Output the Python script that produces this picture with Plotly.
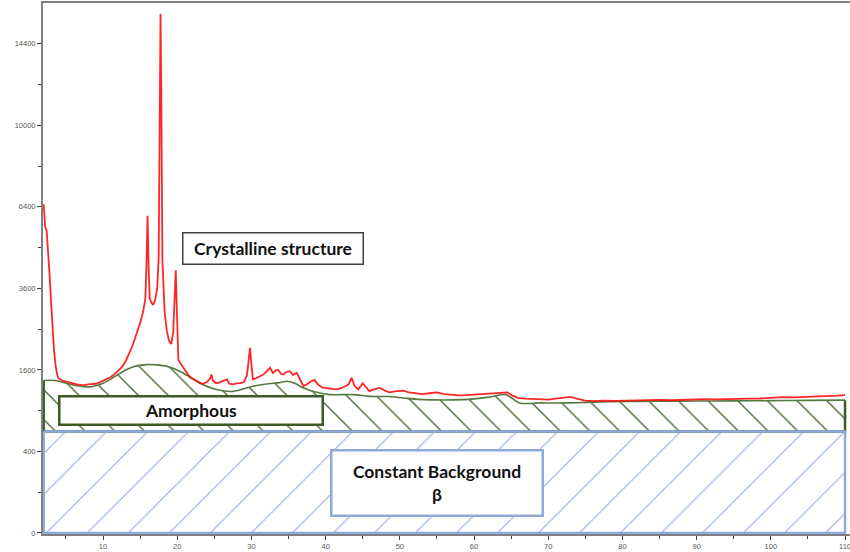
import numpy as np
import plotly.graph_objects as go

# Diffraction pattern: 2-theta (deg) and intensity (counts)
two_theta = [
    2.0, 2.1, 2.2, 2.4, 2.6, 2.8, 3.0, 3.2, 3.4, 3.6, 3.8, 4.0, 4.3, 4.6, 5.0, 5.5,
    6.0, 6.5, 7.0, 7.5, 8.0, 8.5, 9.0, 9.5, 10.0, 10.5, 11.0, 11.5, 12.0, 12.5, 13.0,
    13.5, 14.0, 14.5, 15.0, 15.4, 15.7, 15.85, 16.0, 16.15, 16.3, 16.5, 16.75, 17.0,
    17.3, 17.5, 17.65, 17.75, 17.85, 18.0, 18.3, 18.6, 18.9, 19.2, 19.45, 19.65, 19.8,
    19.95, 20.15, 20.5, 21.0, 21.5, 22.0, 22.5, 23.0, 23.5, 24.0, 24.4, 24.6, 24.8,
    25.2, 25.6, 26.0, 26.4, 26.7, 27.0, 27.5, 28.0, 28.5, 29.0, 29.4, 29.6, 29.8, 30.0,
    30.2, 30.6, 31.0, 31.5, 32.0, 32.5, 32.9, 33.3, 33.6, 34.0, 34.3, 34.7, 35.2, 35.6,
    36.1, 36.5, 37.0, 37.5, 38.0, 38.5, 39.0, 39.6, 40.2, 40.8, 41.4, 42.0, 42.6, 43.1,
    43.5, 43.9, 44.4, 45.0, 45.5, 45.9, 46.5, 47.3, 48.0, 48.6, 49.3, 50.0, 50.5, 51.2,
    52.0, 53.0, 54.0, 55.0, 56.0, 57.0, 58.0, 59.0, 60.0, 61.0, 62.0, 63.0, 64.0, 64.5,
    65.2, 66.0, 67.0, 68.0, 69.0, 70.0, 71.0, 72.0, 73.0, 74.0, 75.0, 76.0, 77.5, 79.0,
    80.5, 82.0, 83.5, 85.0, 86.5, 88.0, 89.5, 91.0, 92.5, 94.0, 95.5, 97.0, 98.5, 100.0,
    101.5, 103.0, 104.5, 106.0, 107.5, 109.0, 110.0,
]
intensity = [
    6500, 5900, 5650, 5500, 4800, 4000, 3200, 2500, 2000, 1700, 1520, 1440, 1420, 1390,
    1380, 1360, 1340, 1330, 1320, 1315, 1330, 1335, 1340, 1360, 1390, 1420, 1460, 1510,
    1570, 1650, 1760, 1920, 2120, 2380, 2650, 2950, 3300, 4300, 6050, 4200, 3300, 3200,
    3130, 3250, 3600, 4600, 11000, 16200, 12000, 4500, 2950, 2450, 2220, 2150, 2400,
    3300, 4150, 3000, 1800, 1720, 1620, 1500, 1440, 1400, 1360, 1340, 1370, 1430, 1510,
    1400, 1350, 1360, 1380, 1400, 1420, 1340, 1330, 1345, 1350, 1370, 1500, 1750, 2060,
    1700, 1420, 1440, 1470, 1500, 1560, 1640, 1540, 1590, 1600, 1520, 1510, 1560, 1575,
    1500, 1545, 1420, 1300, 1330, 1380, 1410, 1320, 1270, 1260, 1250, 1240, 1260, 1290,
    1330, 1450, 1300, 1240, 1350, 1260, 1210, 1240, 1265, 1220, 1190, 1205, 1215, 1220,
    1190, 1180, 1160, 1175, 1190, 1160, 1150, 1140, 1145, 1155, 1165, 1165, 1175, 1190,
    1190, 1135, 1095, 1085, 1080, 1070, 1070, 1085, 1100, 1115, 1080, 1055, 1045, 1055,
    1050, 1055, 1062, 1055, 1065, 1060, 1070, 1072, 1078, 1075, 1082, 1080, 1085, 1088,
    1098, 1110, 1105, 1110, 1115, 1125, 1135, 1145,
]

# Amorphous halo (upper edge of the amorphous contribution)
amorphous_theta = [
    2.0, 3.5, 5.0, 6.5, 8.3, 9.6, 11.0, 12.0, 13.2, 14.5, 15.9, 17.2, 18.6, 20.35, 21.7,
    23.0, 25.3, 27.5, 30.2, 32.0, 33.8, 34.8, 36.0, 36.9, 38.5, 40.5, 43.7, 45.9, 48.6,
    51.0, 53.1, 58.5, 62.0, 64.3, 66.1, 69.0, 72.4, 76.0, 80.0, 85.0, 90.0, 95.0, 100.0,
    105.0, 110.0,
]
amorphous_level = [
    1400, 1400, 1350, 1305, 1285, 1325, 1420, 1510, 1608, 1680, 1706, 1700, 1671, 1573,
    1460, 1355, 1238, 1207, 1295, 1335, 1360, 1384, 1340, 1272, 1200, 1152, 1152, 1123,
    1120, 1090, 1070, 1070, 1110, 1152, 1018, 1018, 1018, 1030, 1040, 1044, 1048, 1050,
    1054, 1058, 1062,
]

# Constant background level beta
beta = 620

# Square-root intensity axis
y_tick_values = [0, 400, 1600, 3600, 6400, 10000, 14400]
y_minor_values = [100, 900, 2500, 4900, 8100, 12100]
x_tick_values = [10, 20, 30, 40, 50, 60, 70, 80, 90, 100, 110]
x_minor_values = [5, 15, 25, 35, 45, 55, 65, 75, 85, 95, 105]

x_lo, x_hi = two_theta[0], two_theta[-1]
sq = np.sqrt

BLUE = "#8faadc"
GREEN_DARK = "#3b5b27"
GREEN_LINE = "#557a40"
GRAY = "#808080"

fig = go.Figure()

# Constant background band (hatched /)
fig.add_trace(go.Scatter(
    x=[x_lo, x_hi], y=[sq(beta)] * 2, mode="lines",
    line=dict(width=0, color=BLUE), fill="tozeroy",
    fillcolor="rgba(0,0,0,0)",
    fillpattern=dict(shape="/", size=29, solidity=0.035, fgcolor="#8aa7dc",
                     fgopacity=1, bgcolor="white"),
    hoverinfo="skip", showlegend=False,
))

# Amorphous contribution above the background (hatched \)
fig.add_trace(go.Scatter(
    x=amorphous_theta, y=sq(np.array(amorphous_level)), mode="lines",
    line=dict(width=1.6, color=GREEN_LINE, shape="spline", smoothing=0.8),
    fill="tonexty", fillcolor="rgba(0,0,0,0)",
    fillpattern=dict(shape="\\", size=21, solidity=0.065, fgcolor="#44662f",
                     fgopacity=1, bgcolor="white"),
    hoverinfo="skip", showlegend=False,
))

# Outline of the amorphous band: sides and bottom
fig.add_trace(go.Scatter(
    x=[x_lo, x_lo, x_hi, x_hi],
    y=[sq(amorphous_level[0]), sq(beta), sq(beta), sq(amorphous_level[-1])],
    mode="lines", line=dict(width=2.5, color=GREEN_DARK),
    hoverinfo="skip", showlegend=False,
))

# Outline of the background band
fig.add_trace(go.Scatter(
    x=[x_lo, x_lo, x_hi, x_hi, x_lo],
    y=[sq(beta), 0, 0, sq(beta), sq(beta)],
    mode="lines", line=dict(width=2.5, color=BLUE),
    hoverinfo="skip", showlegend=False,
))

# Measured pattern
fig.add_trace(go.Scatter(
    x=two_theta, y=sq(np.array(intensity)), mode="lines",
    line=dict(width=1.8, color="rgba(255,0,0,0.85)"),
    hoverinfo="skip", showlegend=False,
))

label_font = dict(family="Lato, Open Sans, sans-serif", size=17.5, color="#111111")

fig.add_annotation(
    x=32.9, y=69.9, xref="x", yref="y", showarrow=False,
    text="<b>Crystalline structure</b>", font=label_font,
    width=179, height=30, borderpad=0, borderwidth=1.5, bordercolor="#404040",
    bgcolor="white", align="center",
)
fig.add_annotation(
    x=21.86, y=30.13, xref="x", yref="y", showarrow=False,
    text="<b>Amorphous</b>", font=label_font,
    width=261, height=26, borderpad=0, borderwidth=2.5, bordercolor=GREEN_DARK,
    bgcolor="white", align="center",
)
fig.add_annotation(
    x=55.0, y=12.34, xref="x", yref="y", showarrow=False,
    text="<b>Constant Background</b><br><b>β</b>", font=label_font,
    width=209, height=63, borderpad=0, borderwidth=2.5, bordercolor=BLUE,
    bgcolor="white", align="center",
)

tick_font = dict(family="Liberation Sans, Arial, sans-serif", size=7.5, color="#595959")

fig.update_xaxes(
    range=[1.91, 110.67], showgrid=False, zeroline=False,
    showline=True, mirror=True, linecolor=GRAY, linewidth=2,
    tickmode="array", tickvals=x_tick_values,
    ticktext=[str(v) for v in x_tick_values],
    ticks="outside", ticklen=4, tickwidth=1, tickcolor="#404040",
    tickfont=tick_font, layer="below traces", ticklabeloverflow="allow",
    minor=dict(tickvals=x_minor_values, ticks="outside", ticklen=3,
               tickwidth=1, tickcolor="#404040"),
)
fig.update_yaxes(
    range=[-0.25, 130], showgrid=False, zeroline=False,
    showline=True, linecolor=GRAY, linewidth=2,
    tickmode="array", tickvals=[sq(v) for v in y_tick_values],
    ticktext=[str(v) for v in y_tick_values],
    ticks="outside", ticklen=4, tickwidth=1, tickcolor="#404040",
    tickfont=tick_font, layer="below traces",
    minor=dict(tickvals=[sq(v) for v in y_minor_values], ticks="outside",
               ticklen=3, tickwidth=1, tickcolor="#404040"),
)

fig.update_layout(
    width=850, height=552,
    margin=dict(l=43, r=0, t=3, b=18),
    paper_bgcolor="white", plot_bgcolor="white",
    showlegend=False,
)

fig.write_html("out.html")
